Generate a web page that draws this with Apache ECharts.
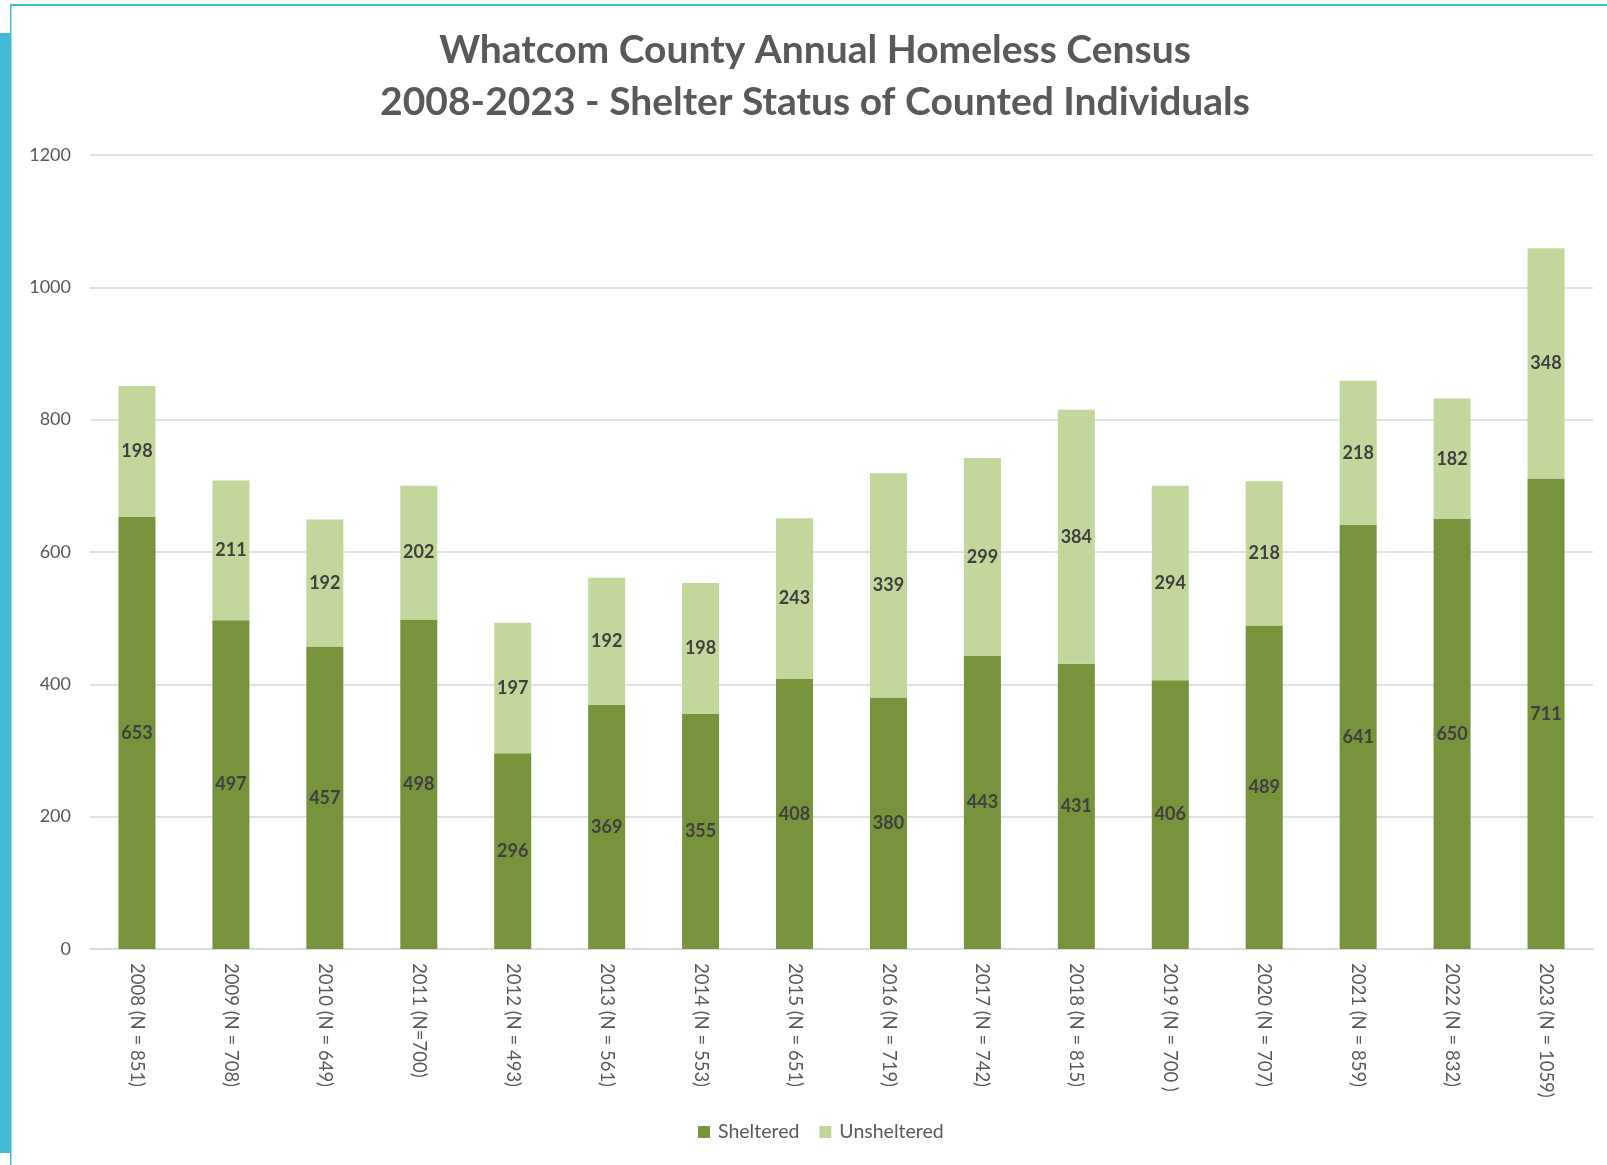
<!DOCTYPE html>
<html>
<head>
<meta charset="utf-8">
<script src="https://cdn.jsdelivr.net/npm/echarts@6/dist/echarts.min.js"></script>
<style>
html,body{margin:0;padding:0;background:#fff;}
#chart{width:1607px;height:1165px;}
</style>
</head>
<body>
<div id="chart"></div>
<script>
const categories = ["2008 (N = 851)", "2009 (N = 708)", "2010 (N = 649)", "2011 (N=700)", "2012 (N = 493)", "2013 (N = 561)", "2014 (N = 553)", "2015 (N = 651)", "2016 (N = 719)", "2017 (N = 742)", "2018 (N = 815)", "2019 (N = 700 )", "2020 (N = 707)", "2021 (N = 859)", "2022 (N = 832)", "2023 (N = 1059)"];
const sheltered = [653, 497, 457, 498, 296, 369, 355, 408, 380, 443, 431, 406, 489, 641, 650, 711];
const unsheltered = [198, 211, 192, 202, 197, 192, 198, 243, 339, 299, 384, 294, 218, 218, 182, 348];
const titleLines = ["Whatcom County Annual Homeless Census", "2008-2023 - Shelter Status of Counted Individuals"];

const chart = echarts.init(document.getElementById('chart'));
const FONT = 'Lato, "Open Sans", sans-serif';
const labelStyle = {show: true, position: 'inside', color: '#404040', fontWeight: 'bold', fontSize: 18, fontFamily: FONT};
chart.setOption({
  animation: false,
  backgroundColor: '#fff',
  title: {
    text: titleLines.join('\n'),
    left: 810, top: 19,
    textAlign: 'center',
    textStyle: {fontFamily: FONT, fontWeight: 'bold', fontSize: 39, color: '#595959', lineHeight: 52}
  },
  graphic: [
    {type: 'rect', shape: {x: 0, y: 33, width: 11, height: 1120}, style: {fill: '#44B9D3'}},
    {type: 'rect', shape: {x: 10, y: 4, width: 1597, height: 2}, style: {fill: '#44B9D3'}},
    {type: 'rect', shape: {x: 10, y: 4, width: 1.5, height: 1161}, style: {fill: '#44B9D3'}}
  ],
  legend: {
    bottom: 18, left: 693,
    icon: 'rect', itemWidth: 12, itemHeight: 12, itemGap: 20,
    textStyle: {fontFamily: FONT, fontSize: 19.5, color: '#595959', padding: [0, 0, 0, 3]},
    data: ['Sheltered', 'Unsheltered']
  },
  grid: {left: 90, right: 14, top: 155, bottom: 216, containLabel: false},
  xAxis: {
    type: 'category', data: categories,
    axisLine: {lineStyle: {color: '#d9d9d9', width: 1.5}},
    axisTick: {show: false},
    axisLabel: {rotate: -90, interval: 0, margin: 14, fontSize: 18.5, color: '#595959', fontFamily: FONT}
  },
  yAxis: {
    type: 'value', min: 0, max: 1200, interval: 200,
    axisLine: {show: false}, axisTick: {show: false},
    axisLabel: {fontSize: 18, color: '#595959', margin: 19, fontFamily: FONT, formatter: function (v) { return String(v); }},
    splitLine: {lineStyle: {color: '#d9d9d9', width: 1.5}}
  },
  series: [
    {name: 'Sheltered', type: 'bar', stack: 'total', data: sheltered, barWidth: 37,
     itemStyle: {color: '#77933C'}, label: labelStyle},
    {name: 'Unsheltered', type: 'bar', stack: 'total', data: unsheltered, barWidth: 37,
     itemStyle: {color: '#C3D69B'}, label: labelStyle}
  ]
});
</script>
</body>
</html>
